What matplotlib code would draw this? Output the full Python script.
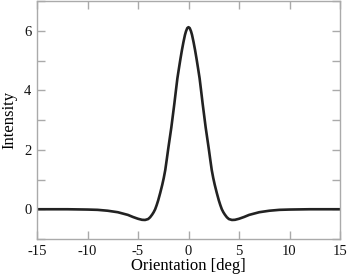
import matplotlib
matplotlib.use('Agg')
import matplotlib.pyplot as plt

# values (right half, mirrored for the left)
half_x = [0, 0.12, 0.25, 0.35, 0.5, 0.65, 0.8, 0.95, 1.1, 1.25, 1.4, 1.55,
          1.7, 1.85, 2, 2.15, 2.3, 2.45, 2.6, 2.8, 3, 3.15, 3.3, 3.45, 3.6,
          3.8, 4, 4.3, 4.6, 5, 5.5, 6, 7, 8, 9, 10, 12, 15]
half_y = [6.12, 6.09, 5.98, 5.86, 5.62, 5.35, 5.05, 4.73, 4.4, 3.98, 3.55,
          3.15, 2.75, 2.4, 2.05, 1.68, 1.32, 1.05, 0.82, 0.55, 0.30, 0.14,
          0.0, -0.10, -0.18, -0.27, -0.33, -0.36, -0.355, -0.32, -0.26,
          -0.19, -0.10, -0.05, -0.02, -0.01, 0, 0]

orientation = [-v for v in half_x[:0:-1]] + half_x
intensity = half_y[:0:-1] + half_y

x_ticks = [-15, -10, -5, 0, 5, 10, 15]
y_ticks = [0, 2, 4, 6]
y_minor = [-1, 1, 3, 5, 7]

plt.rcParams['font.family'] = ['Liberation Serif', 'DejaVu Serif']

fig = plt.figure(figsize=(3.47, 2.77), dpi=100)
ax = fig.add_axes([37 / 347, 1 - 239 / 277, 303 / 347, 238 / 277])

ax.plot(orientation, intensity, color='#222222', lw=1.9,
        solid_joinstyle='round', solid_capstyle='round')

ax.set_xlim(-15, 15)
ax.set_ylim(-1, 7)
ax.set_xticks(x_ticks)
ax.set_xticklabels([str(t) for t in x_ticks])
ax.set_yticks(y_ticks)
ax.set_yticks(y_minor, minor=True)

grey = '#aaaaaa'
for sp in ax.spines.values():
    sp.set_color(grey)
    sp.set_linewidth(1.0)
ax.tick_params(which='both', direction='in', top=True, right=True,
               color=grey, length=5.5, width=1.0, labelsize=10.5,
               labelcolor='#111111', pad=4)

ax.set_xlabel('Orientation [deg]', fontsize=12, labelpad=0)
ax.set_ylabel('Intensity', fontsize=12, labelpad=5)

fig.savefig('out.png', dpi=100)
